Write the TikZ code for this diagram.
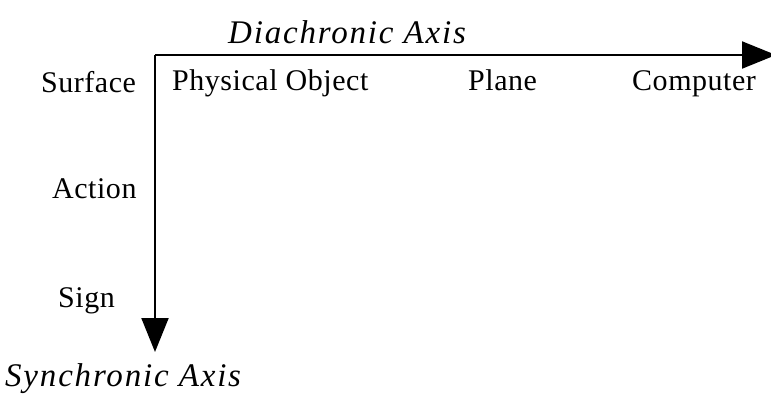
\documentclass[tikz,border=0pt]{standalone}
\usepackage{fontspec}
\setmainfont{Liberation Serif}
\usetikzlibrary{arrows.meta}
\begin{document}
\begin{tikzpicture}[x=1pt,y=-1pt,
  lbl/.style={inner sep=0pt,anchor=base west,font=\fontsize{30}{32}\selectfont\addfontfeature{LetterSpace=1.8}},
  axlbl/.style={inner sep=0pt,anchor=base west,font=\fontsize{33}{35}\selectfont\itshape\addfontfeature{LetterSpace=5.5}},
  axis/.style={line width=2pt,-{Triangle[width=27pt,length=34pt]}}]
\useasboundingbox (0,0) rectangle (771,394);
\coordinate (o) at (155,55);
\coordinate (xend) at (776,55);
\coordinate (yend) at (155,352);
\draw[axis] (o) -- (xend);
\draw[axis] (o) -- (yend);
\node[axlbl] (dia) at (228,43) {Diachronic Axis};
\node[axlbl] (syn) at (5,386) {Synchronic Axis};
\node[lbl] (surf) at (41,92) {Surface};
\node[lbl] (act) at (52,198) {Action};
\node[lbl] (sign) at (58,307) {Sign};
\node[lbl] (phys) at (172,90) {Physical Object};
\node[lbl] (plane) at (468,90) {Plane};
\node[lbl] (comp) at (632,90) {Computer};
\end{tikzpicture}
\end{document}
